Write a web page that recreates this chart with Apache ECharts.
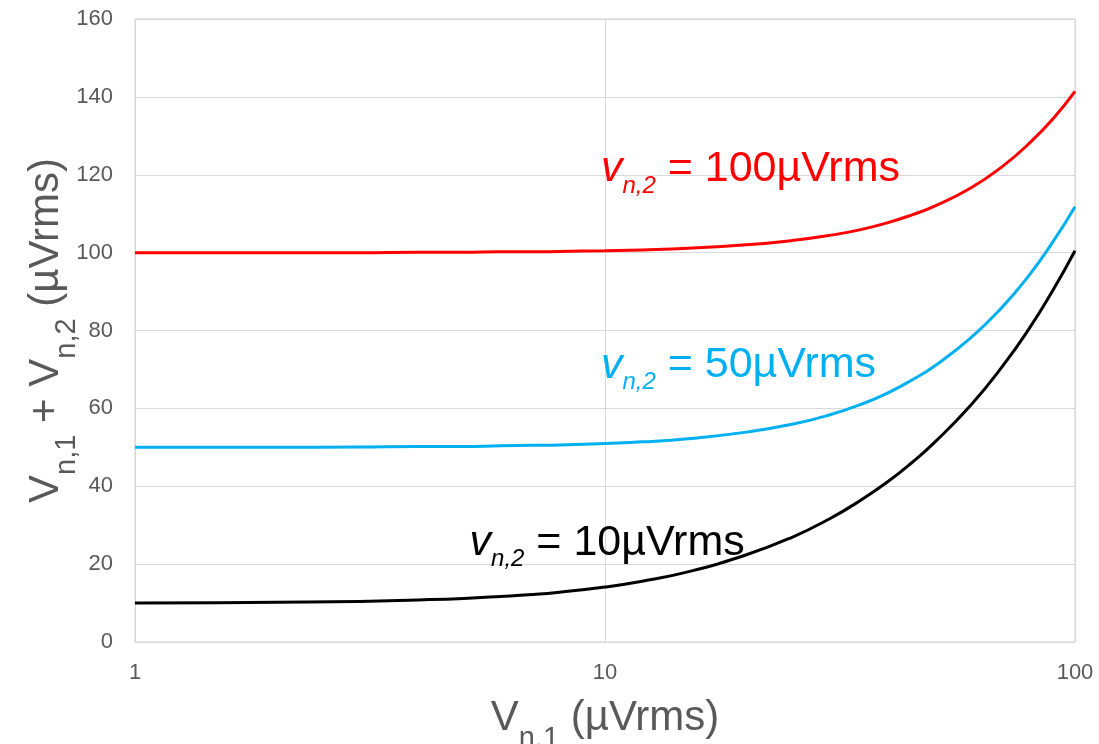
<!DOCTYPE html>
<html><head><meta charset="utf-8">
<script src="https://cdn.jsdelivr.net/npm/echarts@6/dist/echarts.min.js"></script>
<style>html,body{margin:0;padding:0;background:#fff}#c{width:1099px;height:744px}</style>
</head><body><div id="c"></div>
<script>
const xValues = [1, 1.5, 2, 3, 4, 5, 6, 7, 8, 10, 12, 15, 20, 25, 30, 35, 40, 45, 50, 60, 70, 80, 90, 100];
const vn2_10  = [10.0, 10.1, 10.2, 10.4, 10.8, 11.2, 11.7, 12.2, 12.8, 14.1, 15.6, 18.0, 22.4, 26.9, 31.6, 36.4, 41.2, 46.1, 51.0, 60.8, 70.7, 80.6, 90.6, 100.5];
const vn2_50  = [50.0, 50.0, 50.0, 50.1, 50.2, 50.2, 50.4, 50.5, 50.6, 51.0, 51.4, 52.2, 53.9, 55.9, 58.3, 61.0, 64.0, 67.3, 70.7, 78.1, 86.0, 94.3, 103.0, 111.8];
const vn2_100 = [100.0, 100.0, 100.0, 100.0, 100.1, 100.1, 100.2, 100.2, 100.3, 100.5, 100.7, 101.1, 102.0, 103.1, 104.4, 105.9, 107.7, 109.7, 111.8, 116.6, 122.1, 128.1, 134.5, 141.4];
const yTicks = [0, 20, 40, 60, 80, 100, 120, 140, 160];
const xTicks = [1, 10, 100];
const labelNames = ['= 10µVrms', '= 50µVrms', '= 100µVrms'];
const labelAnchors = [[5.15, 25.5], [9.8, 71], [9.8, 121.5]];
const colors = ['#000000', '#00B0F0', '#FF0000'];

const chart = echarts.init(document.getElementById('c'));
const font = 'Liberation Sans, Arial, sans-serif';
function pairs(ys){ return xValues.map((x,i)=>[x, ys[i]]); }
function annot(i){
  return {
    symbol: 'circle', symbolSize: 0,
    label: {
      show: true, position: 'right', distance: 0,
      formatter: '{v|v}{s|n,2}{t| ' + labelNames[i] + '}',
      rich: {
        v: {fontFamily: font, fontSize: 43, fontStyle: 'italic', color: colors[i]},
        s: {fontFamily: font, fontSize: 24, fontStyle: 'italic', color: colors[i], padding: [34,0,0,0]},
        t: {fontFamily: font, fontSize: 43, color: colors[i]}
      }
    },
    data: [{coord: labelAnchors[i]}]
  };
}
const seriesData = [vn2_10, vn2_50, vn2_100];
const titleRich = {
  a: {fontFamily: font, fontSize: 42, color: '#595959'},
  b: {fontFamily: font, fontSize: 29, color: '#595959', padding: [41,0,0,0]}
};
chart.setOption({
  animation: false,
  grid: {left: 135, right: 24, top: 19, bottom: 102, show: true, borderColor: '#d0d0d0', borderWidth: 1,
    containLabel: false, outerBoundsMode: 'none'},
  xAxis: {
    type: 'log', logBase: 10, min: 1, max: 100,
    axisLine: {show: false}, axisTick: {show: false},
    splitLine: {show: true, lineStyle: {color: '#d9d9d9', width: 1}},
    minorTick: {show: false},
    axisLabel: {color: '#595959', fontSize: 22, fontFamily: font, margin: 20,
      formatter: v => xTicks.includes(Math.round(v)) ? String(Math.round(v)) : ''},
    name: '{a|V}{b|n,1}{a| (µVrms)}', nameLocation: 'middle', nameGap: 41, nameMoveOverlap: false,
    nameTextStyle: {rich: titleRich}
  },
  yAxis: {
    type: 'value', min: 0, max: 160, interval: 20,
    axisLine: {show: false}, axisTick: {show: false},
    splitLine: {show: true, lineStyle: {color: '#d9d9d9', width: 1}},
    axisLabel: {color: '#595959', fontSize: 22, fontFamily: font, margin: 22,
      formatter: v => yTicks.includes(v) ? String(v) : ''},
    name: '{a|V}{b|n,1}{a| + V}{b|n,2}{a| (µVrms)}', nameLocation: 'middle', nameGap: 54, nameRotate: 90,
    nameMoveOverlap: false,
    nameTextStyle: {rich: titleRich}
  },
  series: seriesData.map((d,i)=>({
    type: 'line', data: pairs(d), smooth: true, showSymbol: false, symbol: 'none',
    lineStyle: {color: colors[i], width: 3}, z: 3 + i,
    markPoint: annot(i)
  }))
});
</script></body></html>
